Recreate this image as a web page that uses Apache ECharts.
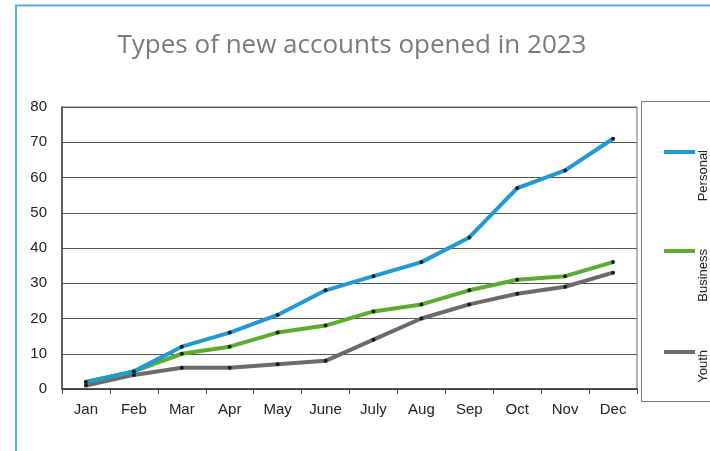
<!DOCTYPE html>
<html>
<head>
<meta charset="utf-8">
<script src="https://cdn.jsdelivr.net/npm/echarts@6/dist/echarts.min.js"></script>
<style>
  html, body { margin: 0; padding: 0; background: #fff; }
  #chart { width: 710px; height: 451px; }
</style>
</head>
<body>
<div id="chart"></div>
<script>
// Monthly counts of new accounts by type
const months = ['Jan', 'Feb', 'Mar', 'Apr', 'May', 'June', 'July', 'Aug', 'Sep', 'Oct', 'Nov', 'Dec'];
const personal = [2, 5, 12, 16, 21, 28, 32, 36, 43, 57, 62, 71];
const business = [2, 5, 10, 12, 16, 18, 22, 24, 28, 31, 32, 36];
const youth = [1, 4, 6, 6, 7, 8, 14, 20, 24, 27, 29, 33];
const seriesNames = ['Personal', 'Business', 'Youth'];
const seriesColors = ['#1f9ad4', '#5aad2e', '#6b6b6b'];
const yTicks = [0, 10, 20, 30, 40, 50, 60, 70, 80];

const chart = echarts.init(document.getElementById('chart'), null, { renderer: 'canvas' });

const values = [personal, business, youth];
const series = seriesNames.map((name, i) => ({
  name: name,
  type: 'line',
  data: values[i],
  symbol: 'circle',
  symbolSize: 4,
  showSymbol: true,
  lineStyle: { color: seriesColors[i], width: 4 },
  itemStyle: { color: '#1a1a1a' },
  z: 3 - i
}));

// Legend panel on the right with vertical item labels
const legendGraphics = [{
  type: 'rect',
  shape: { x: 641.5, y: 101.5, width: 80, height: 300 },
  style: { fill: '#fff', stroke: '#7a7a7a', lineWidth: 1 }
}];
const legendRows = [152, 251, 352];
seriesNames.forEach((name, i) => {
  legendGraphics.push({
    type: 'line',
    shape: { x1: 664, y1: legendRows[i], x2: 695, y2: legendRows[i] },
    style: { stroke: seriesColors[i], lineWidth: 4 }
  });
  legendGraphics.push({
    type: 'text',
    x: 703,
    y: legendRows[i] - 2,
    rotation: Math.PI / 2,
    style: {
      text: name,
      fill: '#222',
      font: '13px "Liberation Sans", Arial, sans-serif',
      align: 'right',
      verticalAlign: 'middle'
    }
  });
});

chart.setOption({
  animation: false,
  backgroundColor: '#fff',
  title: {
    text: 'Types of new accounts opened in 2023',
    left: 347,
    top: 28,
    textAlign: 'center',
    textStyle: {
      color: '#7a7a7a',
      fontFamily: '"Open Sans", sans-serif',
      fontSize: 26,
      fontWeight: 'normal'
    }
  },
  grid: {
    left: 62, right: 73, top: 107, bottom: 62,
    show: true, borderColor: '#6a6a6a', borderWidth: 1, backgroundColor: 'transparent'
  },
  xAxis: {
    type: 'category',
    data: months,
    boundaryGap: true,
    axisLine: { show: true, lineStyle: { color: '#333', width: 1.5 } },
    axisTick: { show: true, length: 5, alignWithLabel: false, lineStyle: { color: '#444' } },
    axisLabel: {
      color: '#222',
      fontFamily: '"Liberation Sans", Arial, sans-serif',
      fontSize: 15,
      margin: 13
    },
    splitLine: { show: false }
  },
  yAxis: {
    type: 'value',
    min: yTicks[0],
    max: yTicks[yTicks.length - 1],
    interval: yTicks[1] - yTicks[0],
    axisLine: { show: true, lineStyle: { color: '#444', width: 1.5 } },
    axisTick: { show: false },
    axisLabel: {
      color: '#222',
      fontFamily: '"Liberation Sans", Arial, sans-serif',
      fontSize: 15,
      margin: 15
    },
    splitLine: { show: true, lineStyle: { color: '#555', width: 1.2 } }
  },
  series: series,
  graphic: [
    // page frame
    {
      type: 'polyline',
      shape: { points: [[16, 451], [16, 5.5], [710, 5.5]] },
      style: { stroke: '#4fb0dc', lineWidth: 2, fill: null }
    }
  ].concat(legendGraphics)
});
</script>
</body>
</html>
